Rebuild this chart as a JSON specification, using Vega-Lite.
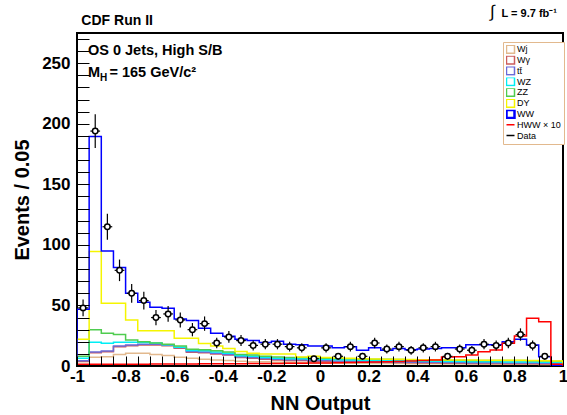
{
  "$schema": "https://vega.github.io/schema/vega-lite/v6.json",
  "width": 486,
  "height": 333,
  "autosize": {"type": "none"},
  "padding": {"left": 77, "top": 33, "right": 4, "bottom": 49},
  "background": "white",
  "config": {
    "view": {"stroke": "black", "strokeWidth": 2},
    "font": "Liberation Sans",
    "axis": {
      "labelFont": "Liberation Sans", "labelFontWeight": "bold", "labelFontSize": 17, "labelColor": "black",
      "titleFont": "Liberation Sans", "titleFontWeight": "bold", "titleFontSize": 20, "titleColor": "black",
      "domain": false, "grid": false, "tickColor": "black", "tickWidth": 1, "labelOverlap": false, "labelFlush": false, "labelBound": false, "zindex": 1
    },
    "axisX": {"tickSize": -10, "labelPadding": 12, "titlePadding": 9},
    "axisY": {"tickSize": -12, "labelPadding": 19, "titlePadding": 9}
  },
  "datasets": {
    "hist": [
      {"i": 0, "x": -1, "Wj": 0, "Wg": 0, "tt": 0, "WZ": 0, "ZZ": 0, "DY": 0, "WW": 0, "HWW": 0},
      {"i": 1, "x": -1, "Wj": 3.6, "Wg": 4.0, "tt": 4.4, "WZ": 6.3, "ZZ": 8.0, "DY": 22.0, "WW": 46.8, "HWW": 1.5},
      {"i": 2, "x": -0.95, "Wj": 7.2, "Wg": 11.0, "tt": 11.6, "WZ": 19.6, "ZZ": 30.0, "DY": 94.5, "WW": 189.5, "HWW": 1.5},
      {"i": 3, "x": -0.9, "Wj": 7.7, "Wg": 11.8, "tt": 12.4, "WZ": 18.7, "ZZ": 27.0, "DY": 51.8, "WW": 95.0, "HWW": 1.5},
      {"i": 4, "x": -0.85, "Wj": 9.6, "Wg": 16.0, "tt": 16.6, "WZ": 19.6, "ZZ": 26.0, "DY": 51.8, "WW": 81.3, "HWW": 1.5},
      {"i": 5, "x": -0.8, "Wj": 10.5, "Wg": 16.8, "tt": 17.4, "WZ": 19.6, "ZZ": 21.5, "DY": 38.0, "WW": 60.0, "HWW": 1.5},
      {"i": 6, "x": -0.75, "Wj": 10.5, "Wg": 17.4, "tt": 18.0, "WZ": 19.4, "ZZ": 20.0, "DY": 29.2, "WW": 52.6, "HWW": 1.5},
      {"i": 7, "x": -0.7, "Wj": 9.6, "Wg": 17.4, "tt": 18.0, "WZ": 18.9, "ZZ": 19.0, "DY": 29.2, "WW": 48.5, "HWW": 1.6},
      {"i": 8, "x": -0.65, "Wj": 8.7, "Wg": 16.8, "tt": 17.4, "WZ": 17.6, "ZZ": 18.0, "DY": 29.2, "WW": 47.7, "HWW": 1.6},
      {"i": 9, "x": -0.6, "Wj": 7.2, "Wg": 14.6, "tt": 15.2, "WZ": 15.5, "ZZ": 16.5, "DY": 22.9, "WW": 38.8, "HWW": 1.7},
      {"i": 10, "x": -0.55, "Wj": 6.3, "Wg": 11.3, "tt": 11.9, "WZ": 12.8, "ZZ": 13.8, "DY": 22.9, "WW": 37.5, "HWW": 1.7},
      {"i": 11, "x": -0.5, "Wj": 5.5, "Wg": 11.0, "tt": 11.6, "WZ": 12.5, "ZZ": 13.5, "DY": 18.5, "WW": 31.1, "HWW": 1.8},
      {"i": 12, "x": -0.45, "Wj": 5.0, "Wg": 10.0, "tt": 10.6, "WZ": 11.5, "ZZ": 12.5, "DY": 16.5, "WW": 27.0, "HWW": 1.8},
      {"i": 13, "x": -0.4, "Wj": 4.5, "Wg": 9.0, "tt": 9.6, "WZ": 10.5, "ZZ": 11.5, "DY": 14.5, "WW": 24.5, "HWW": 1.9},
      {"i": 14, "x": -0.35, "Wj": 4.0, "Wg": 7.0, "tt": 7.6, "WZ": 8.5, "ZZ": 9.5, "DY": 12.0, "WW": 22.0, "HWW": 1.9},
      {"i": 15, "x": -0.3, "Wj": 3.5, "Wg": 6.5, "tt": 7.1, "WZ": 8.0, "ZZ": 9.0, "DY": 10.5, "WW": 21.0, "HWW": 2.0},
      {"i": 16, "x": -0.25, "Wj": 3.5, "Wg": 5.5, "tt": 6.1, "WZ": 7.0, "ZZ": 8.0, "DY": 10.0, "WW": 19.5, "HWW": 2.0},
      {"i": 17, "x": -0.2, "Wj": 3.0, "Wg": 5.0, "tt": 5.6, "WZ": 6.5, "ZZ": 7.5, "DY": 10.0, "WW": 20.5, "HWW": 2.1},
      {"i": 18, "x": -0.15, "Wj": 3.0, "Wg": 4.5, "tt": 5.1, "WZ": 6.0, "ZZ": 7.0, "DY": 10.0, "WW": 18.0, "HWW": 2.2},
      {"i": 19, "x": -0.1, "Wj": 2.8, "Wg": 4.5, "tt": 5.1, "WZ": 6.0, "ZZ": 7.0, "DY": 7.5, "WW": 17.5, "HWW": 2.3},
      {"i": 20, "x": -0.05, "Wj": 2.5, "Wg": 4.0, "tt": 4.6, "WZ": 5.5, "ZZ": 6.5, "DY": 8.0, "WW": 16.5, "HWW": 2.4},
      {"i": 21, "x": 0, "Wj": 2.5, "Wg": 4.0, "tt": 4.6, "WZ": 5.5, "ZZ": 6.5, "DY": 7.0, "WW": 16.5, "HWW": 2.5},
      {"i": 22, "x": 0.05, "Wj": 2.3, "Wg": 3.6, "tt": 4.2, "WZ": 5.1, "ZZ": 6.1, "DY": 6.6, "WW": 15.0, "HWW": 2.7},
      {"i": 23, "x": 0.1, "Wj": 2.3, "Wg": 3.5, "tt": 4.1, "WZ": 5.0, "ZZ": 6.0, "DY": 6.3, "WW": 16.0, "HWW": 2.9},
      {"i": 24, "x": 0.15, "Wj": 2.2, "Wg": 3.3, "tt": 3.9, "WZ": 4.8, "ZZ": 5.8, "DY": 6.0, "WW": 13.0, "HWW": 3.1},
      {"i": 25, "x": 0.2, "Wj": 2.0, "Wg": 3.0, "tt": 3.6, "WZ": 4.5, "ZZ": 5.5, "DY": 5.8, "WW": 15.0, "HWW": 3.3},
      {"i": 26, "x": 0.25, "Wj": 2.0, "Wg": 3.0, "tt": 3.6, "WZ": 4.5, "ZZ": 5.5, "DY": 5.6, "WW": 13.0, "HWW": 3.5},
      {"i": 27, "x": 0.3, "Wj": 2.0, "Wg": 2.8, "tt": 3.4, "WZ": 4.3, "ZZ": 5.3, "DY": 5.5, "WW": 14.5, "HWW": 3.8},
      {"i": 28, "x": 0.35, "Wj": 1.9, "Wg": 2.6, "tt": 3.2, "WZ": 4.1, "ZZ": 5.1, "DY": 5.3, "WW": 13.5, "HWW": 4.1},
      {"i": 29, "x": 0.4, "Wj": 1.8, "Wg": 2.5, "tt": 3.1, "WZ": 4.0, "ZZ": 5.0, "DY": 5.2, "WW": 14.0, "HWW": 4.5},
      {"i": 30, "x": 0.45, "Wj": 1.8, "Wg": 2.4, "tt": 3.0, "WZ": 3.9, "ZZ": 4.9, "DY": 5.1, "WW": 14.5, "HWW": 5.0},
      {"i": 31, "x": 0.5, "Wj": 1.7, "Wg": 2.3, "tt": 2.9, "WZ": 3.8, "ZZ": 4.8, "DY": 5.0, "WW": 15.0, "HWW": 7.5},
      {"i": 32, "x": 0.55, "Wj": 1.6, "Wg": 2.2, "tt": 2.8, "WZ": 3.7, "ZZ": 4.7, "DY": 4.9, "WW": 15.0, "HWW": 7.7},
      {"i": 33, "x": 0.6, "Wj": 1.6, "Wg": 2.1, "tt": 2.7, "WZ": 3.6, "ZZ": 4.6, "DY": 4.9, "WW": 17.5, "HWW": 9.0},
      {"i": 34, "x": 0.65, "Wj": 1.5, "Wg": 2.0, "tt": 2.6, "WZ": 3.5, "ZZ": 4.6, "DY": 4.8, "WW": 17.5, "HWW": 11.8},
      {"i": 35, "x": 0.7, "Wj": 1.5, "Wg": 2.0, "tt": 2.6, "WZ": 3.5, "ZZ": 4.6, "DY": 4.8, "WW": 17.5, "HWW": 13.2},
      {"i": 36, "x": 0.75, "Wj": 1.5, "Wg": 1.9, "tt": 2.5, "WZ": 3.4, "ZZ": 4.6, "DY": 4.8, "WW": 20.0, "HWW": 18.7},
      {"i": 37, "x": 0.8, "Wj": 1.4, "Wg": 1.9, "tt": 2.5, "WZ": 3.4, "ZZ": 4.5, "DY": 4.7, "WW": 22.0, "HWW": 24.8},
      {"i": 38, "x": 0.85, "Wj": 1.4, "Wg": 1.8, "tt": 2.4, "WZ": 3.3, "ZZ": 4.4, "DY": 4.6, "WW": 17.4, "HWW": 39.4},
      {"i": 39, "x": 0.9, "Wj": 1.3, "Wg": 1.7, "tt": 2.3, "WZ": 3.2, "ZZ": 4.2, "DY": 4.4, "WW": 7.7, "HWW": 36.6},
      {"i": 40, "x": 0.95, "Wj": 1.2, "Wg": 1.5, "tt": 2.1, "WZ": 3.0, "ZZ": 4.0, "DY": 4.2, "WW": 0.3, "HWW": 1.5},
      {"i": 41, "x": 1, "Wj": 0, "Wg": 0, "tt": 0, "WZ": 0, "ZZ": 0, "DY": 0, "WW": 0, "HWW": 0}
    ],
    "obs": [
      {"c": -0.975, "n": 48, "lo": 41.07, "hi": 54.93, "xl": -0.995, "xh": -0.955},
      {"c": -0.925, "n": 194, "lo": 180.07, "hi": 207.93, "xl": -0.945, "xh": -0.905},
      {"c": -0.875, "n": 115, "lo": 104.28, "hi": 125.72, "xl": -0.895, "xh": -0.855},
      {"c": -0.825, "n": 79, "lo": 70.11, "hi": 87.89, "xl": -0.845, "xh": -0.805},
      {"c": -0.775, "n": 60, "lo": 52.25, "hi": 67.75, "xl": -0.795, "xh": -0.755},
      {"c": -0.725, "n": 54, "lo": 46.65, "hi": 61.35, "xl": -0.745, "xh": -0.705},
      {"c": -0.675, "n": 40, "lo": 33.68, "hi": 46.32, "xl": -0.695, "xh": -0.655},
      {"c": -0.625, "n": 43, "lo": 36.44, "hi": 49.56, "xl": -0.645, "xh": -0.605},
      {"c": -0.575, "n": 38, "lo": 31.84, "hi": 44.16, "xl": -0.595, "xh": -0.555},
      {"c": -0.525, "n": 30, "lo": 24.52, "hi": 35.48, "xl": -0.545, "xh": -0.505},
      {"c": -0.475, "n": 35, "lo": 29.08, "hi": 40.92, "xl": -0.495, "xh": -0.455},
      {"c": -0.425, "n": 19, "lo": 14.64, "hi": 23.36, "xl": -0.445, "xh": -0.405},
      {"c": -0.375, "n": 24, "lo": 19.1, "hi": 28.9, "xl": -0.395, "xh": -0.355},
      {"c": -0.325, "n": 21, "lo": 16.42, "hi": 25.58, "xl": -0.345, "xh": -0.305},
      {"c": -0.275, "n": 17, "lo": 12.88, "hi": 21.12, "xl": -0.295, "xh": -0.255},
      {"c": -0.225, "n": 18, "lo": 13.76, "hi": 22.24, "xl": -0.245, "xh": -0.205},
      {"c": -0.175, "n": 18, "lo": 13.76, "hi": 22.24, "xl": -0.195, "xh": -0.155},
      {"c": -0.125, "n": 16, "lo": 12, "hi": 20, "xl": -0.145, "xh": -0.105},
      {"c": -0.075, "n": 15, "lo": 11.13, "hi": 18.87, "xl": -0.095, "xh": -0.055},
      {"c": -0.025, "n": 6, "lo": 3.55, "hi": 8.45, "xl": -0.045, "xh": -0.005},
      {"c": 0.025, "n": 15, "lo": 11.13, "hi": 18.87, "xl": 0.005, "xh": 0.045},
      {"c": 0.075, "n": 8, "lo": 5.17, "hi": 10.83, "xl": 0.055, "xh": 0.095},
      {"c": 0.125, "n": 16, "lo": 12, "hi": 20, "xl": 0.105, "xh": 0.145},
      {"c": 0.175, "n": 8, "lo": 5.17, "hi": 10.83, "xl": 0.155, "xh": 0.195},
      {"c": 0.225, "n": 19, "lo": 14.64, "hi": 23.36, "xl": 0.205, "xh": 0.245},
      {"c": 0.275, "n": 14, "lo": 10.26, "hi": 17.74, "xl": 0.255, "xh": 0.295},
      {"c": 0.325, "n": 16, "lo": 12, "hi": 20, "xl": 0.305, "xh": 0.345},
      {"c": 0.375, "n": 13, "lo": 9.39, "hi": 16.61, "xl": 0.355, "xh": 0.395},
      {"c": 0.425, "n": 15, "lo": 11.13, "hi": 18.87, "xl": 0.405, "xh": 0.445},
      {"c": 0.475, "n": 16, "lo": 12, "hi": 20, "xl": 0.455, "xh": 0.495},
      {"c": 0.525, "n": 8, "lo": 5.17, "hi": 10.83, "xl": 0.505, "xh": 0.545},
      {"c": 0.575, "n": 14, "lo": 10.26, "hi": 17.74, "xl": 0.555, "xh": 0.595},
      {"c": 0.625, "n": 13, "lo": 9.39, "hi": 16.61, "xl": 0.605, "xh": 0.645},
      {"c": 0.675, "n": 18, "lo": 13.76, "hi": 22.24, "xl": 0.655, "xh": 0.695},
      {"c": 0.725, "n": 17, "lo": 12.88, "hi": 21.12, "xl": 0.705, "xh": 0.745},
      {"c": 0.775, "n": 19, "lo": 14.64, "hi": 23.36, "xl": 0.755, "xh": 0.795},
      {"c": 0.825, "n": 26, "lo": 20.9, "hi": 31.1, "xl": 0.805, "xh": 0.845},
      {"c": 0.875, "n": 17, "lo": 12.88, "hi": 21.12, "xl": 0.855, "xh": 0.895},
      {"c": 0.925, "n": 8, "lo": 5.17, "hi": 10.83, "xl": 0.905, "xh": 0.945}
    ]
  },
  "layer": [
    {
      "data": {"name": "hist"},
      "transform": [{"fold": ["Wj", "Wg", "tt", "WZ", "ZZ", "DY", "WW", "HWW"], "as": ["proc", "v"]}],
      "mark": {"type": "line", "interpolate": "step-after", "clip": true},
      "encoding": {
        "x": {
          "field": "x", "type": "quantitative", "title": "NN Output",
          "scale": {"domain": [-1, 1], "nice": false, "zero": false},
          "axis": {"values": [-1, -0.95, -0.9, -0.85, -0.8, -0.75, -0.7, -0.65, -0.6, -0.55, -0.5, -0.45, -0.4, -0.35, -0.3, -0.25, -0.2, -0.15, -0.1, -0.05, 0, 0.05, 0.1, 0.15, 0.2, 0.25, 0.3, 0.35, 0.4, 0.45, 0.5, 0.55, 0.6, 0.65, 0.7, 0.75, 0.8, 0.85, 0.9, 0.95, 1], "labelExpr": "abs(datum.value*5 - round(datum.value*5)) < 0.001 ? '' + datum.value : ''", "labelOverlap": false, "tickSize": -10, "labelPadding": 12, "titlePadding": 9, "zindex": 1, "encode": {"ticks": {"update": {"y2": {"signal": "abs(datum.value*5 - round(datum.value*5)) < 0.001 ? -10 : -5"}}}}}
        },
        "y": {
          "field": "v", "type": "quantitative", "title": "Events / 0.05",
          "scale": {"domain": [0, 275], "nice": false},
          "axis": {"values": [0, 10, 20, 30, 40, 50, 60, 70, 80, 90, 100, 110, 120, 130, 140, 150, 160, 170, 180, 190, 200, 210, 220, 230, 240, 250, 260, 270], "labelExpr": "datum.value % 50 == 0 ? '' + datum.value : ''", "labelOverlap": false, "tickSize": -12, "labelPadding": 19, "titlePadding": 9, "zindex": 1, "encode": {"ticks": {"update": {"x2": {"signal": "datum.value % 50 == 0 ? 12 : 6"}}}}}
        },
        "order": {"field": "i"},
        "color": {
          "field": "proc", "type": "nominal",
          "scale": {
            "domain": ["Wj", "Wg", "tt", "WZ", "ZZ", "DY", "WW", "HWW", "Data"],
            "range": ["#e2b98e", "#cc5c5c", "#6a6ad8", "#00eef5", "#4fcc4f", "#f5f500", "#0000ff", "#ff0000", "#000000"]
          },
          "legend": {
            "title": null, "orient": "none", "legendX": 426, "legendY": 9, "direction": "vertical",
            "fillColor": "white", "strokeColor": "#e2b98e", "padding": 3,
            "labelFont": "Liberation Sans", "labelFontSize": 9, "labelColor": "black",
            "symbolSize": 64, "symbolStrokeWidth": 1.5, "rowPadding": 0.8, "labelOffset": 2, "clipHeight": 8.3,
            "labelExpr": "datum.label == 'Wg' ? 'Wγ' : datum.label == 'tt' ? 'tt̄' : datum.label == 'HWW' ? 'HWW × 10' : datum.label",
            "encode": {
              "symbols": {
                "update": {
                  "shape": {"signal": "datum.value == 'HWW' || datum.value == 'Data' ? 'stroke' : 'square'"},
                  "strokeWidth": {"signal": "datum.value == 'WW' ? 2.5 : 1.5"},
                  "fill": {"value": "transparent"}
                }
              }
            }
          }
        },
        "strokeWidth": {
          "field": "proc", "type": "nominal",
          "scale": {
            "domain": ["Wj", "Wg", "tt", "WZ", "ZZ", "DY", "WW", "HWW"],
            "range": [1.5, 1.5, 1.5, 1.5, 1.5, 1.5, 3, 2]
          },
          "legend": null
        }
      }
    },
    {
      "data": {"name": "obs"},
      "mark": {"type": "rule", "color": "black", "strokeWidth": 1.2},
      "encoding": {
        "x": {"field": "c", "type": "quantitative", "title": "NN Output",
          "axis": {"values": [-1, -0.95, -0.9, -0.85, -0.8, -0.75, -0.7, -0.65, -0.6, -0.55, -0.5, -0.45, -0.4, -0.35, -0.3, -0.25, -0.2, -0.15, -0.1, -0.05, 0, 0.05, 0.1, 0.15, 0.2, 0.25, 0.3, 0.35, 0.4, 0.45, 0.5, 0.55, 0.6, 0.65, 0.7, 0.75, 0.8, 0.85, 0.9, 0.95, 1], "labelExpr": "abs(datum.value*5 - round(datum.value*5)) < 0.001 ? '' + datum.value : ''", "labelOverlap": false, "tickSize": -10, "labelPadding": 12, "titlePadding": 9, "zindex": 1, "encode": {"ticks": {"update": {"y2": {"signal": "abs(datum.value*5 - round(datum.value*5)) < 0.001 ? -10 : -5"}}}}}},
        "y": {"field": "lo", "type": "quantitative", "title": "Events / 0.05",
          "axis": {"values": [0, 10, 20, 30, 40, 50, 60, 70, 80, 90, 100, 110, 120, 130, 140, 150, 160, 170, 180, 190, 200, 210, 220, 230, 240, 250, 260, 270], "labelExpr": "datum.value % 50 == 0 ? '' + datum.value : ''", "labelOverlap": false, "tickSize": -12, "labelPadding": 19, "titlePadding": 9, "zindex": 1, "encode": {"ticks": {"update": {"x2": {"signal": "datum.value % 50 == 0 ? 12 : 6"}}}}}},
        "y2": {"field": "hi"}
      }
    },
    {
      "data": {"name": "obs"},
      "mark": {"type": "rule", "color": "black", "strokeWidth": 1.2},
      "encoding": {
        "x": {"field": "xl", "type": "quantitative", "title": "NN Output",
          "axis": {"values": [-1, -0.95, -0.9, -0.85, -0.8, -0.75, -0.7, -0.65, -0.6, -0.55, -0.5, -0.45, -0.4, -0.35, -0.3, -0.25, -0.2, -0.15, -0.1, -0.05, 0, 0.05, 0.1, 0.15, 0.2, 0.25, 0.3, 0.35, 0.4, 0.45, 0.5, 0.55, 0.6, 0.65, 0.7, 0.75, 0.8, 0.85, 0.9, 0.95, 1], "labelExpr": "abs(datum.value*5 - round(datum.value*5)) < 0.001 ? '' + datum.value : ''", "labelOverlap": false, "tickSize": -10, "labelPadding": 12, "titlePadding": 9, "zindex": 1, "encode": {"ticks": {"update": {"y2": {"signal": "abs(datum.value*5 - round(datum.value*5)) < 0.001 ? -10 : -5"}}}}}},
        "x2": {"field": "xh"},
        "y": {"field": "n", "type": "quantitative", "title": "Events / 0.05",
          "axis": {"values": [0, 10, 20, 30, 40, 50, 60, 70, 80, 90, 100, 110, 120, 130, 140, 150, 160, 170, 180, 190, 200, 210, 220, 230, 240, 250, 260, 270], "labelExpr": "datum.value % 50 == 0 ? '' + datum.value : ''", "labelOverlap": false, "tickSize": -12, "labelPadding": 19, "titlePadding": 9, "zindex": 1, "encode": {"ticks": {"update": {"x2": {"signal": "datum.value % 50 == 0 ? 12 : 6"}}}}}}
      }
    },
    {
      "data": {"name": "obs"},
      "mark": {"type": "point", "filled": true, "fill": "white", "stroke": "black", "strokeWidth": 1.5, "size": 30, "opacity": 1},
      "encoding": {
        "x": {"field": "c", "type": "quantitative", "title": "NN Output",
          "axis": {"values": [-1, -0.95, -0.9, -0.85, -0.8, -0.75, -0.7, -0.65, -0.6, -0.55, -0.5, -0.45, -0.4, -0.35, -0.3, -0.25, -0.2, -0.15, -0.1, -0.05, 0, 0.05, 0.1, 0.15, 0.2, 0.25, 0.3, 0.35, 0.4, 0.45, 0.5, 0.55, 0.6, 0.65, 0.7, 0.75, 0.8, 0.85, 0.9, 0.95, 1], "labelExpr": "abs(datum.value*5 - round(datum.value*5)) < 0.001 ? '' + datum.value : ''", "labelOverlap": false, "tickSize": -10, "labelPadding": 12, "titlePadding": 9, "zindex": 1, "encode": {"ticks": {"update": {"y2": {"signal": "abs(datum.value*5 - round(datum.value*5)) < 0.001 ? -10 : -5"}}}}}},
        "y": {"field": "n", "type": "quantitative", "title": "Events / 0.05",
          "axis": {"values": [0, 10, 20, 30, 40, 50, 60, 70, 80, 90, 100, 110, 120, 130, 140, 150, 160, 170, 180, 190, 200, 210, 220, 230, 240, 250, 260, 270], "labelExpr": "datum.value % 50 == 0 ? '' + datum.value : ''", "labelOverlap": false, "tickSize": -12, "labelPadding": 19, "titlePadding": 9, "zindex": 1, "encode": {"ticks": {"update": {"x2": {"signal": "datum.value % 50 == 0 ? 12 : 6"}}}}}}
      }
    },
    {
      "data": {"values": [{}]},
      "mark": {"type": "text", "text": "OS 0 Jets, High S/B", "align": "left", "baseline": "alphabetic", "fontSize": 14.5, "fontWeight": "bold", "font": "Liberation Sans", "color": "black"},
      "encoding": {
        "x": {"datum": -0.955, "type": "quantitative", "title": "NN Output",
          "axis": {"values": [-1, -0.95, -0.9, -0.85, -0.8, -0.75, -0.7, -0.65, -0.6, -0.55, -0.5, -0.45, -0.4, -0.35, -0.3, -0.25, -0.2, -0.15, -0.1, -0.05, 0, 0.05, 0.1, 0.15, 0.2, 0.25, 0.3, 0.35, 0.4, 0.45, 0.5, 0.55, 0.6, 0.65, 0.7, 0.75, 0.8, 0.85, 0.9, 0.95, 1], "labelExpr": "abs(datum.value*5 - round(datum.value*5)) < 0.001 ? '' + datum.value : ''", "labelOverlap": false, "tickSize": -10, "labelPadding": 12, "titlePadding": 9, "zindex": 1, "encode": {"ticks": {"update": {"y2": {"signal": "abs(datum.value*5 - round(datum.value*5)) < 0.001 ? -10 : -5"}}}}}},
        "y": {"datum": 256.8, "type": "quantitative", "title": "Events / 0.05",
          "axis": {"values": [0, 10, 20, 30, 40, 50, 60, 70, 80, 90, 100, 110, 120, 130, 140, 150, 160, 170, 180, 190, 200, 210, 220, 230, 240, 250, 260, 270], "labelExpr": "datum.value % 50 == 0 ? '' + datum.value : ''", "labelOverlap": false, "tickSize": -12, "labelPadding": 19, "titlePadding": 9, "zindex": 1, "encode": {"ticks": {"update": {"x2": {"signal": "datum.value % 50 == 0 ? 12 : 6"}}}}}}
      }
    },
    {
      "data": {"values": [{}]},
      "mark": {"type": "text", "text": "M", "align": "left", "baseline": "alphabetic", "fontSize": 14.5, "fontWeight": "bold", "font": "Liberation Sans", "color": "black"},
      "encoding": {
        "x": {"datum": -0.955, "type": "quantitative", "title": "NN Output",
          "axis": {"values": [-1, -0.95, -0.9, -0.85, -0.8, -0.75, -0.7, -0.65, -0.6, -0.55, -0.5, -0.45, -0.4, -0.35, -0.3, -0.25, -0.2, -0.15, -0.1, -0.05, 0, 0.05, 0.1, 0.15, 0.2, 0.25, 0.3, 0.35, 0.4, 0.45, 0.5, 0.55, 0.6, 0.65, 0.7, 0.75, 0.8, 0.85, 0.9, 0.95, 1], "labelExpr": "abs(datum.value*5 - round(datum.value*5)) < 0.001 ? '' + datum.value : ''", "labelOverlap": false, "tickSize": -10, "labelPadding": 12, "titlePadding": 9, "zindex": 1, "encode": {"ticks": {"update": {"y2": {"signal": "abs(datum.value*5 - round(datum.value*5)) < 0.001 ? -10 : -5"}}}}}},
        "y": {"datum": 238.6, "type": "quantitative", "title": "Events / 0.05",
          "axis": {"values": [0, 10, 20, 30, 40, 50, 60, 70, 80, 90, 100, 110, 120, 130, 140, 150, 160, 170, 180, 190, 200, 210, 220, 230, 240, 250, 260, 270], "labelExpr": "datum.value % 50 == 0 ? '' + datum.value : ''", "labelOverlap": false, "tickSize": -12, "labelPadding": 19, "titlePadding": 9, "zindex": 1, "encode": {"ticks": {"update": {"x2": {"signal": "datum.value % 50 == 0 ? 12 : 6"}}}}}}
      }
    },
    {
      "data": {"values": [{}]},
      "mark": {"type": "text", "text": "H", "align": "left", "baseline": "alphabetic", "dx": 12, "dy": 4, "fontSize": 10, "fontWeight": "bold", "font": "Liberation Sans", "color": "black"},
      "encoding": {
        "x": {"datum": -0.955, "type": "quantitative", "title": "NN Output",
          "axis": {"values": [-1, -0.95, -0.9, -0.85, -0.8, -0.75, -0.7, -0.65, -0.6, -0.55, -0.5, -0.45, -0.4, -0.35, -0.3, -0.25, -0.2, -0.15, -0.1, -0.05, 0, 0.05, 0.1, 0.15, 0.2, 0.25, 0.3, 0.35, 0.4, 0.45, 0.5, 0.55, 0.6, 0.65, 0.7, 0.75, 0.8, 0.85, 0.9, 0.95, 1], "labelExpr": "abs(datum.value*5 - round(datum.value*5)) < 0.001 ? '' + datum.value : ''", "labelOverlap": false, "tickSize": -10, "labelPadding": 12, "titlePadding": 9, "zindex": 1, "encode": {"ticks": {"update": {"y2": {"signal": "abs(datum.value*5 - round(datum.value*5)) < 0.001 ? -10 : -5"}}}}}},
        "y": {"datum": 238.6, "type": "quantitative", "title": "Events / 0.05",
          "axis": {"values": [0, 10, 20, 30, 40, 50, 60, 70, 80, 90, 100, 110, 120, 130, 140, 150, 160, 170, 180, 190, 200, 210, 220, 230, 240, 250, 260, 270], "labelExpr": "datum.value % 50 == 0 ? '' + datum.value : ''", "labelOverlap": false, "tickSize": -12, "labelPadding": 19, "titlePadding": 9, "zindex": 1, "encode": {"ticks": {"update": {"x2": {"signal": "datum.value % 50 == 0 ? 12 : 6"}}}}}}
      }
    },
    {
      "data": {"values": [{}]},
      "mark": {"type": "text", "text": "= 165 GeV/c²", "align": "left", "baseline": "alphabetic", "dx": 21.5, "fontSize": 14.5, "fontWeight": "bold", "font": "Liberation Sans", "color": "black"},
      "encoding": {
        "x": {"datum": -0.955, "type": "quantitative", "title": "NN Output",
          "axis": {"values": [-1, -0.95, -0.9, -0.85, -0.8, -0.75, -0.7, -0.65, -0.6, -0.55, -0.5, -0.45, -0.4, -0.35, -0.3, -0.25, -0.2, -0.15, -0.1, -0.05, 0, 0.05, 0.1, 0.15, 0.2, 0.25, 0.3, 0.35, 0.4, 0.45, 0.5, 0.55, 0.6, 0.65, 0.7, 0.75, 0.8, 0.85, 0.9, 0.95, 1], "labelExpr": "abs(datum.value*5 - round(datum.value*5)) < 0.001 ? '' + datum.value : ''", "labelOverlap": false, "tickSize": -10, "labelPadding": 12, "titlePadding": 9, "zindex": 1, "encode": {"ticks": {"update": {"y2": {"signal": "abs(datum.value*5 - round(datum.value*5)) < 0.001 ? -10 : -5"}}}}}},
        "y": {"datum": 238.6, "type": "quantitative", "title": "Events / 0.05",
          "axis": {"values": [0, 10, 20, 30, 40, 50, 60, 70, 80, 90, 100, 110, 120, 130, 140, 150, 160, 170, 180, 190, 200, 210, 220, 230, 240, 250, 260, 270], "labelExpr": "datum.value % 50 == 0 ? '' + datum.value : ''", "labelOverlap": false, "tickSize": -12, "labelPadding": 19, "titlePadding": 9, "zindex": 1, "encode": {"ticks": {"update": {"x2": {"signal": "datum.value % 50 == 0 ? 12 : 6"}}}}}}
      }
    },
    {
      "data": {"values": [{}]},
      "mark": {"type": "text", "text": "CDF Run II", "align": "left", "baseline": "alphabetic", "fontSize": 14, "fontWeight": "bold", "font": "Liberation Sans", "color": "black"},
      "encoding": {
        "x": {"datum": -0.982, "type": "quantitative", "title": "NN Output",
          "axis": {"values": [-1, -0.95, -0.9, -0.85, -0.8, -0.75, -0.7, -0.65, -0.6, -0.55, -0.5, -0.45, -0.4, -0.35, -0.3, -0.25, -0.2, -0.15, -0.1, -0.05, 0, 0.05, 0.1, 0.15, 0.2, 0.25, 0.3, 0.35, 0.4, 0.45, 0.5, 0.55, 0.6, 0.65, 0.7, 0.75, 0.8, 0.85, 0.9, 0.95, 1], "labelExpr": "abs(datum.value*5 - round(datum.value*5)) < 0.001 ? '' + datum.value : ''", "labelOverlap": false, "tickSize": -10, "labelPadding": 12, "titlePadding": 9, "zindex": 1, "encode": {"ticks": {"update": {"y2": {"signal": "abs(datum.value*5 - round(datum.value*5)) < 0.001 ? -10 : -5"}}}}}},
        "y": {"datum": 281.6, "type": "quantitative", "title": "Events / 0.05",
          "axis": {"values": [0, 10, 20, 30, 40, 50, 60, 70, 80, 90, 100, 110, 120, 130, 140, 150, 160, 170, 180, 190, 200, 210, 220, 230, 240, 250, 260, 270], "labelExpr": "datum.value % 50 == 0 ? '' + datum.value : ''", "labelOverlap": false, "tickSize": -12, "labelPadding": 19, "titlePadding": 9, "zindex": 1, "encode": {"ticks": {"update": {"x2": {"signal": "datum.value % 50 == 0 ? 12 : 6"}}}}}}
      }
    },
    {
      "data": {"values": [{}]},
      "mark": {"type": "text", "text": "∫", "align": "left", "baseline": "alphabetic", "fontSize": 17, "font": "Liberation Sans", "color": "black"},
      "encoding": {
        "x": {"datum": 0.6996, "type": "quantitative", "title": "NN Output",
          "axis": {"values": [-1, -0.95, -0.9, -0.85, -0.8, -0.75, -0.7, -0.65, -0.6, -0.55, -0.5, -0.45, -0.4, -0.35, -0.3, -0.25, -0.2, -0.15, -0.1, -0.05, 0, 0.05, 0.1, 0.15, 0.2, 0.25, 0.3, 0.35, 0.4, 0.45, 0.5, 0.55, 0.6, 0.65, 0.7, 0.75, 0.8, 0.85, 0.9, 0.95, 1], "labelExpr": "abs(datum.value*5 - round(datum.value*5)) < 0.001 ? '' + datum.value : ''", "labelOverlap": false, "tickSize": -10, "labelPadding": 12, "titlePadding": 9, "zindex": 1, "encode": {"ticks": {"update": {"y2": {"signal": "abs(datum.value*5 - round(datum.value*5)) < 0.001 ? -10 : -5"}}}}}},
        "y": {"datum": 288.5, "type": "quantitative", "title": "Events / 0.05",
          "axis": {"values": [0, 10, 20, 30, 40, 50, 60, 70, 80, 90, 100, 110, 120, 130, 140, 150, 160, 170, 180, 190, 200, 210, 220, 230, 240, 250, 260, 270], "labelExpr": "datum.value % 50 == 0 ? '' + datum.value : ''", "labelOverlap": false, "tickSize": -12, "labelPadding": 19, "titlePadding": 9, "zindex": 1, "encode": {"ticks": {"update": {"x2": {"signal": "datum.value % 50 == 0 ? 12 : 6"}}}}}}
      }
    },
    {
      "data": {"values": [{}]},
      "mark": {"type": "text", "text": "L = 9.7 fb⁻¹", "align": "right", "baseline": "alphabetic", "fontSize": 11, "fontWeight": "bold", "font": "Liberation Sans", "color": "black"},
      "encoding": {
        "x": {"datum": 0.975, "type": "quantitative", "title": "NN Output",
          "axis": {"values": [-1, -0.95, -0.9, -0.85, -0.8, -0.75, -0.7, -0.65, -0.6, -0.55, -0.5, -0.45, -0.4, -0.35, -0.3, -0.25, -0.2, -0.15, -0.1, -0.05, 0, 0.05, 0.1, 0.15, 0.2, 0.25, 0.3, 0.35, 0.4, 0.45, 0.5, 0.55, 0.6, 0.65, 0.7, 0.75, 0.8, 0.85, 0.9, 0.95, 1], "labelExpr": "abs(datum.value*5 - round(datum.value*5)) < 0.001 ? '' + datum.value : ''", "labelOverlap": false, "tickSize": -10, "labelPadding": 12, "titlePadding": 9, "zindex": 1, "encode": {"ticks": {"update": {"y2": {"signal": "abs(datum.value*5 - round(datum.value*5)) < 0.001 ? -10 : -5"}}}}}},
        "y": {"datum": 288.5, "type": "quantitative", "title": "Events / 0.05",
          "axis": {"values": [0, 10, 20, 30, 40, 50, 60, 70, 80, 90, 100, 110, 120, 130, 140, 150, 160, 170, 180, 190, 200, 210, 220, 230, 240, 250, 260, 270], "labelExpr": "datum.value % 50 == 0 ? '' + datum.value : ''", "labelOverlap": false, "tickSize": -12, "labelPadding": 19, "titlePadding": 9, "zindex": 1, "encode": {"ticks": {"update": {"x2": {"signal": "datum.value % 50 == 0 ? 12 : 6"}}}}}}
      }
    }
  ]
}
